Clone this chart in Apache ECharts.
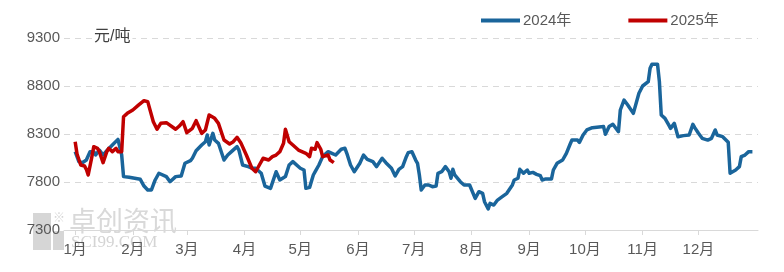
<!DOCTYPE html>
<html>
<head>
<meta charset="utf-8">
<script src="https://cdn.jsdelivr.net/npm/echarts@6/dist/echarts.min.js"></script>
<style>
html,body{margin:0;padding:0;background:#fff;}
#chart{width:784px;height:272px;}
</style>
</head>
<body>
<div id="chart"></div>
<script>
// ---- data (x = day of year, 0 = Jan 1) ----
const monthStarts = [0, 31, 60, 91, 121, 152, 182, 213, 244, 274, 305, 335];
const monthLabels = ['1月','2月','3月','4月','5月','6月','7月','8月','9月','10月','11月','12月'];
const yTicks = [7300, 7800, 8300, 8800, 9300];
const unitLabel = '元/吨';
const seriesNames = ['2024年', '2025年'];

const days2024 = [0,2,4,6,8,10,11,13,15,17,20,23,24,25,26,29,32,35,37,39,41,43,45,49,51,54,55,57,59,62,63,65,68,70,71,72,74,75,77,78,80,82,84,87,88,90,93,95,97,100,102,105,106,108,110,113,115,117,121,123,124,126,128,129,131,133,136,138,140,143,145,146,148,150,153,155,157,160,162,165,167,170,172,174,176,178,179,181,182,183,184,185,186,188,189,190,192,193,194,195,197,199,201,202,203,204,207,209,212,215,217,219,220,222,223,225,227,229,232,235,236,238,239,241,243,244,246,248,250,251,253,256,257,259,262,264,266,267,270,271,273,275,278,284,285,287,289,292,293,295,297,300,301,303,305,306,308,309,310,313,314,315,317,319,320,322,323,324,327,330,332,333,335,337,340,342,344,345,348,349,351,352,353,355,357,358,360,362,364];
const price2024 = [8116,8012,8001,8029,8116,8116,8081,8133,8081,8126,8185,8244,8244,8081,7856,7849,7839,7828,7758,7717,7717,7821,7891,7856,7803,7856,7873,7863,7995,8022,8047,8126,8185,8220,8290,8185,8307,8237,8203,8220,8029,8081,8116,8168,8133,7977,7960,7943,7943,7891,7758,7734,7751,7907,7821,7856,7977,8012,7943,7925,7734,7744,7873,7907,7977,8064,8116,8099,8081,8141,8151,8099,7977,7907,7995,8081,8036,8012,7960,8047,8001,7943,7863,7932,7960,8064,8106,8116,8099,8029,7995,7873,7717,7769,7751,7769,7751,7769,7758,7891,7907,7960,7907,7839,7932,7873,7803,7769,7769,7630,7699,7682,7595,7520,7578,7560,7612,7640,7682,7769,7821,7839,7932,7891,7925,7891,7900,7880,7866,7821,7832,7832,7925,7995,8029,8099,8193,8237,8237,8213,8290,8342,8366,8377,8297,8377,8401,8324,8550,8654,8602,8515,8530,8724,8800,8818,8845,8984,9026,9026,8845,8498,8463,8394,8359,8411,8342,8272,8283,8290,8401,8366,8307,8255,8237,8255,8342,8290,8272,8272,8213,7891,7873,7925,7960,8064,8081,8116,8116];

const days2025 = [0,1,3,5,6,7,9,10,12,13,15,17,18,20,22,23,25,26,28,31,34,37,39,42,44,46,49,54,56,58,60,63,65,68,70,72,75,77,78,80,83,85,87,89,92,95,97,99,101,104,106,108,110,112,113,115,117,120,124,126,127,129,130,132,133,136,137,139];
const price2025 = [8220,8092,7977,7967,7932,7873,8064,8168,8151,8116,8001,8116,8151,8116,8151,8116,8116,8480,8515,8550,8600,8647,8637,8428,8349,8411,8418,8349,8383,8428,8314,8359,8439,8307,8342,8498,8463,8411,8418,8237,8196,8220,8266,8210,8081,7943,7907,7977,8047,8029,8064,8081,8116,8203,8349,8220,8185,8133,8099,8064,8151,8141,8210,8141,8064,8081,8029,8001];

const pair = (xs, ys) => xs.map((x, i) => [x, ys[i]]);

const FONT = '"Liberation Sans", "Noto Sans CJK SC", sans-serif';
const chart = echarts.init(document.getElementById('chart'));
chart.setOption({
  animation: false,
  backgroundColor: '#fff',
  textStyle: { fontFamily: FONT },
  grid: { left: 64, right: 26, top: 38, bottom: 42, containLabel: false },
  legend: {
    data: seriesNames,
    left: 476, top: 8,
    icon: 'rect',
    itemWidth: 39, itemHeight: 4, itemGap: 57,
    textStyle: { fontSize: 15, color: '#595959', fontFamily: FONT, padding: [0,0,0,-2] }
  },
  graphic: [
    { type: 'group', z: -10, silent: true, children: [
      { type: 'rect', shape: { x: 33, y: 213, width: 18, height: 37 }, style: { fill: '#d6d6d6' } },
      { type: 'rect', shape: { x: 53, y: 231, width: 11, height: 19 }, style: { fill: '#d6d6d6' } },
      { type: 'text', style: { x: 53, y: 213, text: '※', font: '12px ' + FONT, fill: '#d6d6d6' } },
      { type: 'text', style: { x: 69, y: 207, text: '卓创资讯', font: '27px "Noto Sans CJK SC", sans-serif', fill: '#d9d9d9' } },
      { type: 'text', style: { x: 71, y: 234, text: 'SCI99.COM', font: '17px "Liberation Serif", serif', fill: '#d4d4d4' } }
    ]},
    { type: 'text', left: 92, top: 29, z: 10,
      style: { text: unitLabel, font: '16px ' + FONT, fill: '#404040', backgroundColor: '#fff', padding: [0, 2] } }
  ],
  xAxis: {
    type: 'value',
    min: -6, max: 367,
    splitLine: { show: false },
    axisLine: { show: true, lineStyle: { color: '#d9d9d9', width: 1 } },
    axisTick: { show: true, customValues: monthStarts, length: 5, lineStyle: { color: '#d9d9d9' } },
    axisLabel: {
      customValues: monthStarts,
      formatter: v => monthLabels[monthStarts.indexOf(v)] || '',
      fontSize: 15, color: '#595959', margin: 12, fontFamily: FONT
    }
  },
  yAxis: {
    type: 'value',
    min: yTicks[0], max: yTicks[yTicks.length - 1], interval: 500,
    axisLine: { show: false },
    axisTick: { show: false },
    axisLabel: { fontSize: 15, color: '#595959', margin: 4, fontFamily: FONT, formatter: v => String(v) },
    splitLine: { show: true, lineStyle: { color: '#d9d9d9', type: [6, 5], width: 1 } }
  },
  series: [
    { name: seriesNames[0], type: 'line', data: pair(days2024, price2024), showSymbol: false,
      lineStyle: { width: 3.5, color: '#1a659b', join: 'round' }, itemStyle: { color: '#1a659b' }, z: 2 },
    { name: seriesNames[1], type: 'line', data: pair(days2025, price2025), showSymbol: false,
      lineStyle: { width: 3.5, color: '#c00000', join: 'round' }, itemStyle: { color: '#c00000' }, z: 3 }
  ]
});
</script>
</body>
</html>
